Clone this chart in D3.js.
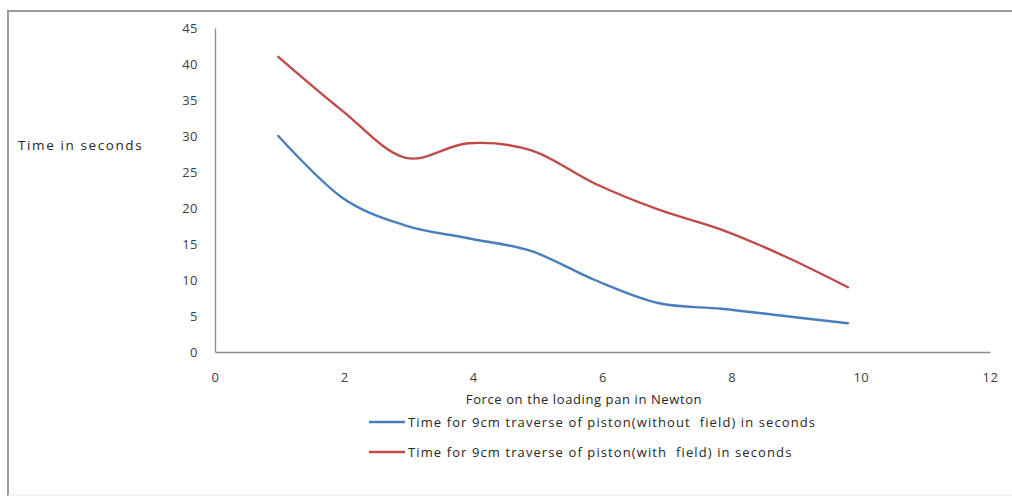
<!DOCTYPE html>
<html>
<head>
<meta charset="utf-8">
<script src="https://cdn.jsdelivr.net/npm/d3@7.9.0/dist/d3.min.js"></script>
<style>
  body { margin: 0; background: #fff; }
  svg { display: block; font-family: "Open Sans", Lato, sans-serif; }
  .lbl { white-space: pre; fill: #262626; font-size: 13px; letter-spacing: 0.8px; }
</style>
</head>
<body>
<svg id="chart" width="1012" height="496"></svg>
<script>
// force on the pan (N) = mass steps of 100 g x 9.8
const force = [0.98, 1.96, 2.94, 3.92, 4.9, 5.88, 6.86, 7.84, 8.82, 9.8];
const withoutField = [30, 21.5, 17.6, 15.8, 14, 10, 6.8, 6, 5, 4];
const withField = [41, 33.6, 27, 29, 28, 23.4, 19.8, 17, 13.3, 9];
const xTicks = [0, 2, 4, 6, 8, 10, 12];
const yTicks = [0, 5, 10, 15, 20, 25, 30, 35, 40, 45];
const seriesNames = [
  'Time for 9cm traverse of piston(without  field) in seconds',
  'Time for 9cm traverse of piston(with  field) in seconds',
];
const seriesColors = ['#4a7ebb', '#be4b48'];

const svg = d3.select('#chart');

// outer frame
svg.append('line').attr('x1', 8).attr('x2', 1012).attr('y1', 11).attr('y2', 11)
  .attr('stroke', '#9a9a9a').attr('stroke-width', 2);
svg.append('line').attr('x1', 8).attr('x2', 8).attr('y1', 10).attr('y2', 496)
  .attr('stroke', '#9a9a9a').attr('stroke-width', 2);
svg.append('line').attr('x1', 8).attr('x2', 1012).attr('y1', 495).attr('y2', 495)
  .attr('stroke', '#e6e6e6').attr('stroke-width', 1);

const x = d3.scaleLinear().domain([0, 12]).range([215, 990]);
const y = d3.scaleLinear().domain([0, 45]).range([352, 28]);

// axes
const xAxis = svg.append('g')
  .attr('transform', `translate(0,${y(0)})`)
  .call(d3.axisBottom(x).tickValues(xTicks).tickSize(0).tickPadding(21));
const yAxis = svg.append('g')
  .attr('transform', `translate(${x(0)},0)`)
  .call(d3.axisLeft(y).tickValues(yTicks).tickSize(0).tickPadding(17));

[xAxis, yAxis].forEach((g) => {
  g.select('.domain').attr('stroke', '#8c8c8c').attr('stroke-width', 1.3);
  g.selectAll('text')
    .attr('fill', '#404040')
    .style('font-size', '13px')
    .style('letter-spacing', '0.5px')
    .style('font-family', '"Open Sans", Lato, sans-serif');
});

// lines
const line = d3.line()
  .x((d) => x(d[0]))
  .y((d) => y(d[1]))
  .curve(d3.curveCardinal.tension(0));

[withoutField, withField].forEach((vals, i) => {
  svg.append('path')
    .datum(force.map((f, j) => [f, vals[j]]))
    .attr('fill', 'none')
    .attr('stroke', seriesColors[i])
    .attr('stroke-width', 2.4)
    .attr('stroke-linecap', 'round')
    .attr('d', line);
});

// titles
svg.append('text')
  .attr('class', 'lbl')
  .attr('x', 18).attr('y', 150)
  .style('font-size', '13.5px')
  .style('letter-spacing', '1.6px')
  .text('Time in seconds');

svg.append('text')
  .attr('class', 'lbl')
  .attr('x', 584).attr('y', 404)
  .attr('text-anchor', 'middle')
  .style('letter-spacing', '0.6px')
  .text('Force on the loading pan in Newton');

// legend
const legend = svg.append('g');
seriesNames.forEach((name, i) => {
  const ly = 422 + i * 30;
  legend.append('line')
    .attr('x1', 369).attr('x2', 405).attr('y1', ly).attr('y2', ly)
    .attr('stroke', seriesColors[i]).attr('stroke-width', 2.4);
  legend.append('text')
    .attr('class', 'lbl')
    .attr('x', 408).attr('y', ly + 5)
    .style('letter-spacing', '1.1px')
    .text(name);
});
</script>
</body>
</html>
